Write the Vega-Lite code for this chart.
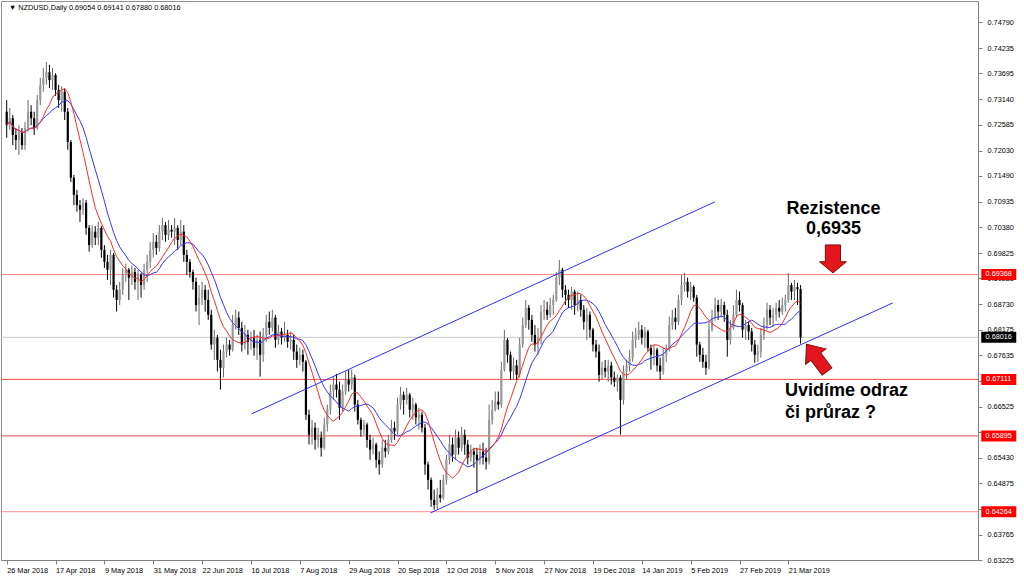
{
"$schema": "https://vega.github.io/schema/vega-lite/v6.json",
"width": 977, "height": 559,
"autosize": "none",
"padding": {"left": 1, "top": 1, "right": 46, "bottom": 17},
"background": "white",
"config": {"view": {"stroke": "#909090"}, "font": "Liberation Sans",
 "axisX": {"labelAlign": "left", "labelBaseline": "top", "labelPadding": 2, "labelDx": 1,
    "tickSize": 4, "grid": false, "title": null, "labelFont": "Liberation Sans", "labelFontSize": 7.3,
    "labelColor": "#000000", "domainColor": "#808080", "tickColor": "#808080",
    "labelFlush": false, "labelOverlap": false, "labelBound": false},
 "axisY": {"tickSize": 4, "labelPadding": 5, "grid": false, "title": null,
    "labelFont": "Liberation Sans", "labelFontSize": 7.3, "labelColor": "#000000",
    "domainColor": "#808080", "tickColor": "#808080", "labelBaseline": "middle", "labelOverlap": false, "labelFlush": false, "labelBound": false}
},
"datasets": {
"ohlc": [
{"i":0,"o":0.7287,"h":0.7312,"l":0.7231,"c":0.7258},
{"i":1,"o":0.7258,"h":0.7295,"l":0.7248,"c":0.7273},
{"i":2,"o":0.7273,"h":0.7280,"l":0.7215,"c":0.7237},
{"i":3,"o":0.7237,"h":0.7252,"l":0.7205,"c":0.7226},
{"i":4,"o":0.7226,"h":0.7258,"l":0.7194,"c":0.7244},
{"i":5,"o":0.7244,"h":0.7252,"l":0.7205,"c":0.7215},
{"i":6,"o":0.7215,"h":0.7265,"l":0.7205,"c":0.7252},
{"i":7,"o":0.7252,"h":0.7312,"l":0.7244,"c":0.7287},
{"i":8,"o":0.7287,"h":0.7301,"l":0.7258,"c":0.7273},
{"i":9,"o":0.7273,"h":0.7287,"l":0.7237,"c":0.7252},
{"i":10,"o":0.7252,"h":0.7323,"l":0.7248,"c":0.7312},
{"i":11,"o":0.7312,"h":0.7360,"l":0.7301,"c":0.7345},
{"i":12,"o":0.7345,"h":0.7381,"l":0.7330,"c":0.7360},
{"i":13,"o":0.7360,"h":0.7394,"l":0.7345,"c":0.7372},
{"i":14,"o":0.7372,"h":0.7388,"l":0.7338,"c":0.7355},
{"i":15,"o":0.7355,"h":0.7381,"l":0.7334,"c":0.7366},
{"i":16,"o":0.7366,"h":0.7370,"l":0.7321,"c":0.7334},
{"i":17,"o":0.7334,"h":0.7345,"l":0.7295,"c":0.7312},
{"i":18,"o":0.7312,"h":0.7342,"l":0.7287,"c":0.7330},
{"i":19,"o":0.7330,"h":0.7336,"l":0.7269,"c":0.7287},
{"i":20,"o":0.7287,"h":0.7295,"l":0.7205,"c":0.7222},
{"i":21,"o":0.7222,"h":0.7226,"l":0.7136,"c":0.7145},
{"i":22,"o":0.7145,"h":0.7151,"l":0.7086,"c":0.7108},
{"i":23,"o":0.7108,"h":0.7119,"l":0.7072,"c":0.7086},
{"i":24,"o":0.7086,"h":0.7097,"l":0.7050,"c":0.7076},
{"i":25,"o":0.7076,"h":0.7101,"l":0.7065,"c":0.7091},
{"i":26,"o":0.7091,"h":0.7097,"l":0.7022,"c":0.7037},
{"i":27,"o":0.7037,"h":0.7043,"l":0.6986,"c":0.7000},
{"i":28,"o":0.7000,"h":0.7043,"l":0.6994,"c":0.7029},
{"i":29,"o":0.7029,"h":0.7041,"l":0.7000,"c":0.7016},
{"i":30,"o":0.7016,"h":0.7050,"l":0.7000,"c":0.7037},
{"i":31,"o":0.7037,"h":0.7041,"l":0.6973,"c":0.6990},
{"i":32,"o":0.6990,"h":0.7000,"l":0.6951,"c":0.6964},
{"i":33,"o":0.6964,"h":0.6979,"l":0.6925,"c":0.6947},
{"i":34,"o":0.6947,"h":0.6990,"l":0.6914,"c":0.6979},
{"i":35,"o":0.6979,"h":0.6983,"l":0.6887,"c":0.6904},
{"i":36,"o":0.6904,"h":0.6914,"l":0.6857,"c":0.6882},
{"i":37,"o":0.6882,"h":0.6921,"l":0.6871,"c":0.6904},
{"i":38,"o":0.6904,"h":0.6951,"l":0.6893,"c":0.6936},
{"i":39,"o":0.6936,"h":0.6960,"l":0.6921,"c":0.6947},
{"i":40,"o":0.6947,"h":0.6951,"l":0.6882,"c":0.6930},
{"i":41,"o":0.6930,"h":0.6956,"l":0.6914,"c":0.6942},
{"i":42,"o":0.6942,"h":0.6951,"l":0.6904,"c":0.6921},
{"i":43,"o":0.6921,"h":0.6947,"l":0.6882,"c":0.6936},
{"i":44,"o":0.6936,"h":0.6940,"l":0.6887,"c":0.6914},
{"i":45,"o":0.6914,"h":0.6960,"l":0.6904,"c":0.6947},
{"i":46,"o":0.6947,"h":0.6979,"l":0.6921,"c":0.6964},
{"i":47,"o":0.6964,"h":0.7007,"l":0.6951,"c":0.6990},
{"i":48,"o":0.6990,"h":0.7026,"l":0.6973,"c":0.7007},
{"i":49,"o":0.7007,"h":0.7022,"l":0.6979,"c":0.6994},
{"i":50,"o":0.6994,"h":0.7043,"l":0.6986,"c":0.7029},
{"i":51,"o":0.7029,"h":0.7058,"l":0.7011,"c":0.7043},
{"i":52,"o":0.7043,"h":0.7050,"l":0.7007,"c":0.7022},
{"i":53,"o":0.7022,"h":0.7054,"l":0.7011,"c":0.7033},
{"i":54,"o":0.7033,"h":0.7043,"l":0.7016,"c":0.7029},
{"i":55,"o":0.7029,"h":0.7058,"l":0.7000,"c":0.7037},
{"i":56,"o":0.7037,"h":0.7043,"l":0.6990,"c":0.7011},
{"i":57,"o":0.7011,"h":0.7054,"l":0.7000,"c":0.7029},
{"i":58,"o":0.7029,"h":0.7043,"l":0.6964,"c":0.6979},
{"i":59,"o":0.6979,"h":0.6990,"l":0.6936,"c":0.6964},
{"i":60,"o":0.6964,"h":0.6970,"l":0.6930,"c":0.6942},
{"i":61,"o":0.6942,"h":0.6947,"l":0.6904,"c":0.6921},
{"i":62,"o":0.6921,"h":0.6930,"l":0.6857,"c":0.6871},
{"i":63,"o":0.6871,"h":0.6914,"l":0.6828,"c":0.6887},
{"i":64,"o":0.6887,"h":0.6921,"l":0.6871,"c":0.6904},
{"i":65,"o":0.6904,"h":0.6914,"l":0.6857,"c":0.6882},
{"i":66,"o":0.6882,"h":0.6904,"l":0.6839,"c":0.6850},
{"i":67,"o":0.6850,"h":0.6861,"l":0.6775,"c":0.6786},
{"i":68,"o":0.6786,"h":0.6818,"l":0.6753,"c":0.6801},
{"i":69,"o":0.6801,"h":0.6807,"l":0.6728,"c":0.6753},
{"i":70,"o":0.6753,"h":0.6775,"l":0.6689,"c":0.6736},
{"i":71,"o":0.6736,"h":0.6786,"l":0.6715,"c":0.6771},
{"i":72,"o":0.6771,"h":0.6801,"l":0.6758,"c":0.6786},
{"i":73,"o":0.6786,"h":0.6796,"l":0.6762,"c":0.6775},
{"i":74,"o":0.6775,"h":0.6850,"l":0.6771,"c":0.6828},
{"i":75,"o":0.6828,"h":0.6861,"l":0.6818,"c":0.6844},
{"i":76,"o":0.6844,"h":0.6857,"l":0.6807,"c":0.6822},
{"i":77,"o":0.6822,"h":0.6835,"l":0.6771,"c":0.6786},
{"i":78,"o":0.6786,"h":0.6828,"l":0.6775,"c":0.6807},
{"i":79,"o":0.6807,"h":0.6818,"l":0.6764,"c":0.6792},
{"i":80,"o":0.6792,"h":0.6814,"l":0.6775,"c":0.6801},
{"i":81,"o":0.6801,"h":0.6818,"l":0.6762,"c":0.6779},
{"i":82,"o":0.6779,"h":0.6807,"l":0.6753,"c":0.6796},
{"i":83,"o":0.6796,"h":0.6814,"l":0.6717,"c":0.6764},
{"i":84,"o":0.6764,"h":0.6822,"l":0.6749,"c":0.6807},
{"i":85,"o":0.6807,"h":0.6850,"l":0.6792,"c":0.6835},
{"i":86,"o":0.6835,"h":0.6857,"l":0.6807,"c":0.6822},
{"i":87,"o":0.6822,"h":0.6861,"l":0.6814,"c":0.6844},
{"i":88,"o":0.6844,"h":0.6850,"l":0.6779,"c":0.6796},
{"i":89,"o":0.6796,"h":0.6828,"l":0.6786,"c":0.6814},
{"i":90,"o":0.6814,"h":0.6822,"l":0.6786,"c":0.6801},
{"i":91,"o":0.6801,"h":0.6835,"l":0.6792,"c":0.6807},
{"i":92,"o":0.6807,"h":0.6818,"l":0.6779,"c":0.6792},
{"i":93,"o":0.6792,"h":0.6814,"l":0.6775,"c":0.6796},
{"i":94,"o":0.6796,"h":0.6807,"l":0.6753,"c":0.6771},
{"i":95,"o":0.6771,"h":0.6786,"l":0.6736,"c":0.6753},
{"i":96,"o":0.6753,"h":0.6779,"l":0.6741,"c":0.6764},
{"i":97,"o":0.6764,"h":0.6775,"l":0.6728,"c":0.6749},
{"i":98,"o":0.6749,"h":0.6753,"l":0.6624,"c":0.6635},
{"i":99,"o":0.6635,"h":0.6646,"l":0.6571,"c":0.6592},
{"i":100,"o":0.6592,"h":0.6624,"l":0.6571,"c":0.6607},
{"i":101,"o":0.6607,"h":0.6618,"l":0.6560,"c":0.6581},
{"i":102,"o":0.6581,"h":0.6607,"l":0.6564,"c":0.6586},
{"i":103,"o":0.6586,"h":0.6599,"l":0.6545,"c":0.6564},
{"i":104,"o":0.6564,"h":0.6629,"l":0.6560,"c":0.6614},
{"i":105,"o":0.6614,"h":0.6657,"l":0.6599,"c":0.6646},
{"i":106,"o":0.6646,"h":0.6700,"l":0.6635,"c":0.6685},
{"i":107,"o":0.6685,"h":0.6717,"l":0.6667,"c":0.6700},
{"i":108,"o":0.6700,"h":0.6723,"l":0.6672,"c":0.6689},
{"i":109,"o":0.6689,"h":0.6706,"l":0.6624,"c":0.6650},
{"i":110,"o":0.6650,"h":0.6700,"l":0.6642,"c":0.6685},
{"i":111,"o":0.6685,"h":0.6728,"l":0.6678,"c":0.6710},
{"i":112,"o":0.6710,"h":0.6732,"l":0.6685,"c":0.6700},
{"i":113,"o":0.6700,"h":0.6732,"l":0.6689,"c":0.6715},
{"i":114,"o":0.6715,"h":0.6721,"l":0.6642,"c":0.6657},
{"i":115,"o":0.6657,"h":0.6667,"l":0.6614,"c":0.6624},
{"i":116,"o":0.6624,"h":0.6629,"l":0.6588,"c":0.6603},
{"i":117,"o":0.6603,"h":0.6624,"l":0.6592,"c":0.6614},
{"i":118,"o":0.6614,"h":0.6618,"l":0.6564,"c":0.6581},
{"i":119,"o":0.6581,"h":0.6592,"l":0.6538,"c":0.6560},
{"i":120,"o":0.6560,"h":0.6586,"l":0.6549,"c":0.6571},
{"i":121,"o":0.6571,"h":0.6575,"l":0.6521,"c":0.6538},
{"i":122,"o":0.6538,"h":0.6556,"l":0.6506,"c":0.6528},
{"i":123,"o":0.6528,"h":0.6581,"l":0.6521,"c":0.6564},
{"i":124,"o":0.6564,"h":0.6581,"l":0.6543,"c":0.6556},
{"i":125,"o":0.6556,"h":0.6592,"l":0.6549,"c":0.6581},
{"i":126,"o":0.6581,"h":0.6624,"l":0.6575,"c":0.6607},
{"i":127,"o":0.6607,"h":0.6620,"l":0.6581,"c":0.6599},
{"i":128,"o":0.6599,"h":0.6672,"l":0.6592,"c":0.6657},
{"i":129,"o":0.6657,"h":0.6695,"l":0.6646,"c":0.6678},
{"i":130,"o":0.6678,"h":0.6685,"l":0.6635,"c":0.6667},
{"i":131,"o":0.6667,"h":0.6693,"l":0.6657,"c":0.6678},
{"i":132,"o":0.6678,"h":0.6682,"l":0.6629,"c":0.6646},
{"i":133,"o":0.6646,"h":0.6672,"l":0.6624,"c":0.6657},
{"i":134,"o":0.6657,"h":0.6661,"l":0.6614,"c":0.6629},
{"i":135,"o":0.6629,"h":0.6650,"l":0.6603,"c":0.6635},
{"i":136,"o":0.6635,"h":0.6642,"l":0.6597,"c":0.6607},
{"i":137,"o":0.6607,"h":0.6615,"l":0.6506,"c":0.6528},
{"i":138,"o":0.6528,"h":0.6534,"l":0.6474,"c":0.6495},
{"i":139,"o":0.6495,"h":0.6500,"l":0.6437,"c":0.6452},
{"i":140,"o":0.6452,"h":0.6474,"l":0.6431,"c":0.6441},
{"i":141,"o":0.6441,"h":0.6478,"l":0.6431,"c":0.6463},
{"i":142,"o":0.6463,"h":0.6495,"l":0.6446,"c":0.6456},
{"i":143,"o":0.6456,"h":0.6506,"l":0.6452,"c":0.6495},
{"i":144,"o":0.6495,"h":0.6549,"l":0.6485,"c":0.6538},
{"i":145,"o":0.6538,"h":0.6592,"l":0.6528,"c":0.6571},
{"i":146,"o":0.6571,"h":0.6586,"l":0.6534,"c":0.6549},
{"i":147,"o":0.6549,"h":0.6603,"l":0.6538,"c":0.6586},
{"i":148,"o":0.6586,"h":0.6599,"l":0.6549,"c":0.6564},
{"i":149,"o":0.6564,"h":0.6609,"l":0.6556,"c":0.6592},
{"i":150,"o":0.6592,"h":0.6603,"l":0.6549,"c":0.6571},
{"i":151,"o":0.6571,"h":0.6581,"l":0.6528,"c":0.6543},
{"i":152,"o":0.6543,"h":0.6571,"l":0.6534,"c":0.6556},
{"i":153,"o":0.6556,"h":0.6564,"l":0.6521,"c":0.6549},
{"i":154,"o":0.6549,"h":0.6564,"l":0.6467,"c":0.6538},
{"i":155,"o":0.6538,"h":0.6571,"l":0.6528,"c":0.6556},
{"i":156,"o":0.6556,"h":0.6575,"l":0.6528,"c":0.6543},
{"i":157,"o":0.6543,"h":0.6564,"l":0.6517,"c":0.6534},
{"i":158,"o":0.6534,"h":0.6657,"l":0.6528,"c":0.6624},
{"i":159,"o":0.6624,"h":0.6667,"l":0.6614,"c":0.6646},
{"i":160,"o":0.6646,"h":0.6685,"l":0.6642,"c":0.6663},
{"i":161,"o":0.6663,"h":0.6685,"l":0.6646,"c":0.6657},
{"i":162,"o":0.6657,"h":0.6749,"l":0.6650,"c":0.6732},
{"i":163,"o":0.6732,"h":0.6818,"l":0.6728,"c":0.6796},
{"i":164,"o":0.6796,"h":0.6800,"l":0.6747,"c":0.6764},
{"i":165,"o":0.6764,"h":0.6771,"l":0.6710,"c":0.6728},
{"i":166,"o":0.6728,"h":0.6758,"l":0.6710,"c":0.6741},
{"i":167,"o":0.6741,"h":0.6753,"l":0.6710,"c":0.6721},
{"i":168,"o":0.6721,"h":0.6801,"l":0.6715,"c":0.6786},
{"i":169,"o":0.6786,"h":0.6844,"l":0.6779,"c":0.6828},
{"i":170,"o":0.6828,"h":0.6882,"l":0.6822,"c":0.6865},
{"i":171,"o":0.6865,"h":0.6871,"l":0.6818,"c":0.6839},
{"i":172,"o":0.6839,"h":0.6850,"l":0.6792,"c":0.6807},
{"i":173,"o":0.6807,"h":0.6828,"l":0.6771,"c":0.6786},
{"i":174,"o":0.6786,"h":0.6822,"l":0.6764,"c":0.6801},
{"i":175,"o":0.6801,"h":0.6871,"l":0.6786,"c":0.6857},
{"i":176,"o":0.6857,"h":0.6882,"l":0.6839,"c":0.6861},
{"i":177,"o":0.6861,"h":0.6878,"l":0.6839,"c":0.6850},
{"i":178,"o":0.6850,"h":0.6887,"l":0.6844,"c":0.6871},
{"i":179,"o":0.6871,"h":0.6893,"l":0.6850,"c":0.6882},
{"i":180,"o":0.6882,"h":0.6942,"l":0.6878,"c":0.6930},
{"i":181,"o":0.6930,"h":0.6968,"l":0.6914,"c":0.6947},
{"i":182,"o":0.6947,"h":0.6951,"l":0.6887,"c":0.6904},
{"i":183,"o":0.6904,"h":0.6914,"l":0.6871,"c":0.6893},
{"i":184,"o":0.6893,"h":0.6904,"l":0.6865,"c":0.6882},
{"i":185,"o":0.6882,"h":0.6910,"l":0.6861,"c":0.6900},
{"i":186,"o":0.6900,"h":0.6904,"l":0.6850,"c":0.6871},
{"i":187,"o":0.6871,"h":0.6900,"l":0.6857,"c":0.6882},
{"i":188,"o":0.6882,"h":0.6893,"l":0.6846,"c":0.6861},
{"i":189,"o":0.6861,"h":0.6871,"l":0.6818,"c":0.6835},
{"i":190,"o":0.6835,"h":0.6865,"l":0.6796,"c":0.6850},
{"i":191,"o":0.6850,"h":0.6857,"l":0.6801,"c":0.6818},
{"i":192,"o":0.6818,"h":0.6822,"l":0.6771,"c":0.6786},
{"i":193,"o":0.6786,"h":0.6796,"l":0.6758,"c":0.6771},
{"i":194,"o":0.6771,"h":0.6786,"l":0.6706,"c":0.6721},
{"i":195,"o":0.6721,"h":0.6749,"l":0.6710,"c":0.6736},
{"i":196,"o":0.6736,"h":0.6753,"l":0.6715,"c":0.6728},
{"i":197,"o":0.6728,"h":0.6753,"l":0.6706,"c":0.6741},
{"i":198,"o":0.6741,"h":0.6749,"l":0.6700,"c":0.6715},
{"i":199,"o":0.6715,"h":0.6728,"l":0.6695,"c":0.6706},
{"i":200,"o":0.6706,"h":0.6721,"l":0.6685,"c":0.6715},
{"i":201,"o":0.6715,"h":0.6720,"l":0.6592,"c":0.6667},
{"i":202,"o":0.6667,"h":0.6741,"l":0.6657,"c":0.6728},
{"i":203,"o":0.6728,"h":0.6753,"l":0.6710,"c":0.6741},
{"i":204,"o":0.6741,"h":0.6775,"l":0.6728,"c":0.6758},
{"i":205,"o":0.6758,"h":0.6814,"l":0.6749,"c":0.6796},
{"i":206,"o":0.6796,"h":0.6822,"l":0.6779,"c":0.6807},
{"i":207,"o":0.6807,"h":0.6835,"l":0.6796,"c":0.6818},
{"i":208,"o":0.6818,"h":0.6828,"l":0.6786,"c":0.6801},
{"i":209,"o":0.6801,"h":0.6824,"l":0.6779,"c":0.6814},
{"i":210,"o":0.6814,"h":0.6818,"l":0.6771,"c":0.6779},
{"i":211,"o":0.6779,"h":0.6786,"l":0.6732,"c":0.6764},
{"i":212,"o":0.6764,"h":0.6786,"l":0.6741,"c":0.6775},
{"i":213,"o":0.6775,"h":0.6779,"l":0.6728,"c":0.6741},
{"i":214,"o":0.6741,"h":0.6758,"l":0.6710,"c":0.6728},
{"i":215,"o":0.6728,"h":0.6779,"l":0.6721,"c":0.6764},
{"i":216,"o":0.6764,"h":0.6786,"l":0.6749,"c":0.6775},
{"i":217,"o":0.6775,"h":0.6846,"l":0.6771,"c":0.6828},
{"i":218,"o":0.6828,"h":0.6861,"l":0.6818,"c":0.6844},
{"i":219,"o":0.6844,"h":0.6865,"l":0.6818,"c":0.6835},
{"i":220,"o":0.6835,"h":0.6893,"l":0.6828,"c":0.6882},
{"i":221,"o":0.6882,"h":0.6936,"l":0.6871,"c":0.6914},
{"i":222,"o":0.6914,"h":0.6940,"l":0.6900,"c":0.6921},
{"i":223,"o":0.6921,"h":0.6930,"l":0.6887,"c":0.6900},
{"i":224,"o":0.6900,"h":0.6921,"l":0.6882,"c":0.6910},
{"i":225,"o":0.6910,"h":0.6914,"l":0.6878,"c":0.6887},
{"i":226,"o":0.6887,"h":0.6893,"l":0.6760,"c":0.6786},
{"i":227,"o":0.6786,"h":0.6792,"l":0.6749,"c":0.6764},
{"i":228,"o":0.6764,"h":0.6779,"l":0.6736,"c":0.6749},
{"i":229,"o":0.6749,"h":0.6764,"l":0.6721,"c":0.6736},
{"i":230,"o":0.6736,"h":0.6835,"l":0.6732,"c":0.6818},
{"i":231,"o":0.6818,"h":0.6861,"l":0.6814,"c":0.6844},
{"i":232,"o":0.6844,"h":0.6887,"l":0.6837,"c":0.6871},
{"i":233,"o":0.6871,"h":0.6882,"l":0.6839,"c":0.6857},
{"i":234,"o":0.6857,"h":0.6885,"l":0.6844,"c":0.6871},
{"i":235,"o":0.6871,"h":0.6878,"l":0.6835,"c":0.6850},
{"i":236,"o":0.6850,"h":0.6861,"l":0.6760,"c":0.6796},
{"i":237,"o":0.6796,"h":0.6839,"l":0.6786,"c":0.6822},
{"i":238,"o":0.6822,"h":0.6871,"l":0.6818,"c":0.6850},
{"i":239,"o":0.6850,"h":0.6904,"l":0.6844,"c":0.6882},
{"i":240,"o":0.6882,"h":0.6900,"l":0.6857,"c":0.6871},
{"i":241,"o":0.6871,"h":0.6876,"l":0.6801,"c":0.6818},
{"i":242,"o":0.6818,"h":0.6839,"l":0.6796,"c":0.6828},
{"i":243,"o":0.6828,"h":0.6835,"l":0.6796,"c":0.6814},
{"i":244,"o":0.6814,"h":0.6822,"l":0.6771,"c":0.6786},
{"i":245,"o":0.6786,"h":0.6796,"l":0.6747,"c":0.6764},
{"i":246,"o":0.6764,"h":0.6786,"l":0.6749,"c":0.6771},
{"i":247,"o":0.6771,"h":0.6822,"l":0.6758,"c":0.6807},
{"i":248,"o":0.6807,"h":0.6844,"l":0.6796,"c":0.6828},
{"i":249,"o":0.6828,"h":0.6876,"l":0.6818,"c":0.6861},
{"i":250,"o":0.6861,"h":0.6871,"l":0.6828,"c":0.6844},
{"i":251,"o":0.6844,"h":0.6865,"l":0.6824,"c":0.6850},
{"i":252,"o":0.6850,"h":0.6876,"l":0.6837,"c":0.6865},
{"i":253,"o":0.6865,"h":0.6882,"l":0.6844,"c":0.6857},
{"i":254,"o":0.6857,"h":0.6887,"l":0.6850,"c":0.6871},
{"i":255,"o":0.6871,"h":0.6893,"l":0.6857,"c":0.6882},
{"i":256,"o":0.6882,"h":0.6940,"l":0.6876,"c":0.6914},
{"i":257,"o":0.6914,"h":0.6919,"l":0.6882,"c":0.6900},
{"i":258,"o":0.6900,"h":0.6925,"l":0.6882,"c":0.6910},
{"i":259,"o":0.6910,"h":0.6919,"l":0.6871,"c":0.6905},
{"i":260,"o":0.69054,"h":0.69141,"l":0.6788,"c":0.68016}
],
"levels": [
{"p":0.69368,"k":"light"},
{"p":0.67111,"k":"red"},
{"p":0.65895,"k":"red"},
{"p":0.64264,"k":"light"},
{"p":0.68016,"k":"cur"}
],
"channel": [
{"ch":"upper","i":80.2,"p":0.66369},
{"ch":"upper","i":231.9,"p":0.70929},
{"ch":"lower","i":138.8,"p":0.64239},
{"ch":"lower","i":290.2,"p":0.68756}
]
},
"layer": [
{
 "data": {"name": "levels"},
 "mark": {"type": "rule", "strokeWidth": 1},
 "encoding": {
  "y": {"field": "p", "type": "quantitative", "title": null,
   "scale": {"domain": [0.63225, 0.75252], "nice": false, "zero": false},
   "axis": {"orient": "right", "tickCount": 60,
    "values": [0.7479,0.74235,0.73695,0.7314,0.72585,0.7203,0.7149,0.70935,0.7038,0.69825,0.69283,0.6873,0.68175,0.67635,0.6708,0.66525,0.6597,0.6543,0.64875,0.6432,0.63765,0.63225],
    "labelExpr": "indexof([0.6708, 0.6597, 0.6432], datum.value) >= 0 ? '' : format(datum.value, '.5f')",
    "labelOverlap": false, "labelFlush": false, "labelBound": false, "labelPadding": 5, "tickSize": 4,
    "labelFont": "Liberation Sans", "labelFontSize": 7.3, "labelColor": "#000000", "labelBaseline": "middle",
    "domainColor": "#808080", "tickColor": "#808080", "grid": false}},
  "color": {"field": "k", "type": "nominal", "scale": {"domain": ["light","red","cur"], "range": ["#ff8a8a","#f04848","#c8c8c8"]}, "legend": null}
 }
},
{
 "data": {"name": "ohlc"},
 "mark": {"type": "rule", "strokeWidth": 1},
 "encoding": {
  "x": {"field": "i", "type": "quantitative", "title": null, "scale": {"domain": [-0.23, 316.47], "nice": false, "zero": false},
   "axis": {"tickCount": 60, "values": [0,16,32,48,64,80,96,112,128,144,160,176,192,208,224,240,256],
    "labelExpr": "['26 Mar 2018','17 Apr 2018','9 May 2018','31 May 2018','22 Jun 2018','16 Jul 2018','7 Aug 2018','29 Aug 2018','20 Sep 2018','12 Oct 2018','5 Nov 2018','27 Nov 2018','19 Dec 2018','14 Jan 2019','5 Feb 2019','27 Feb 2019','21 Mar 2019'][round(datum.value/16)]",
    "labelOverlap": false}},
  "y": {"field": "l", "type": "quantitative", "title": null, "scale": {"domain": [0.63225, 0.75252], "nice": false, "zero": false}, "axis": {"orient": "right", "labelOverlap": false, "tickCount": 60}},
  "y2": {"field": "h"},
  "color": {"condition": {"test": "datum.c >= datum.o", "value": "#6a6a6a"}, "value": "#000000"}
 }
},
{
 "data": {"name": "ohlc"},
 "mark": {"type": "bar", "size": 2.2},
 "encoding": {
  "x": {"field": "i", "type": "quantitative", "title": null, "scale": {"domain": [-0.23, 316.47], "nice": false, "zero": false}},
  "y": {"field": "o", "type": "quantitative", "title": null, "scale": {"domain": [0.63225, 0.75252], "nice": false, "zero": false}, "axis": {"orient": "right", "labelOverlap": false, "tickCount": 60}},
  "y2": {"field": "c"},
  "color": {"condition": {"test": "datum.c >= datum.o", "value": "#9a9a9a"}, "value": "#000000"}
 }
},
{
 "data": {"name": "ohlc"},
 "transform": [{"window": [{"op": "mean", "field": "c", "as": "ma15"}], "sort": [{"field": "i"}], "frame": [-14, 0]}],
 "mark": {"type": "line", "color": "#3535ff", "strokeWidth": 1},
 "encoding": {
  "x": {"field": "i", "type": "quantitative", "title": null, "scale": {"domain": [-0.23, 316.47], "nice": false, "zero": false}},
  "y": {"field": "ma15", "type": "quantitative", "title": null, "scale": {"domain": [0.63225, 0.75252], "nice": false, "zero": false}, "axis": {"orient": "right", "labelOverlap": false, "tickCount": 60}}
 }
},
{
 "data": {"name": "ohlc"},
 "transform": [{"window": [{"op": "mean", "field": "c", "as": "ma10"}], "sort": [{"field": "i"}], "frame": [-9, 0]}],
 "mark": {"type": "line", "color": "#ff2a2a", "strokeWidth": 1},
 "encoding": {
  "x": {"field": "i", "type": "quantitative", "title": null, "scale": {"domain": [-0.23, 316.47], "nice": false, "zero": false}},
  "y": {"field": "ma10", "type": "quantitative", "title": null, "scale": {"domain": [0.63225, 0.75252], "nice": false, "zero": false}, "axis": {"orient": "right", "labelOverlap": false, "tickCount": 60}}
 }
},
{
 "data": {"name": "channel"},
 "mark": {"type": "line", "color": "#3030ff", "strokeWidth": 1},
 "encoding": {
  "x": {"field": "i", "type": "quantitative", "title": null, "scale": {"domain": [-0.23, 316.47], "nice": false, "zero": false}},
  "y": {"field": "p", "type": "quantitative", "title": null, "scale": {"domain": [0.63225, 0.75252], "nice": false, "zero": false}, "axis": {"orient": "right", "labelOverlap": false, "tickCount": 60}},
  "detail": {"field": "ch"}
 }
},
{
 "data": {"values": [{"t": "Rezistence", "i": 270.8, "p": 0.70671}, {"t": "0,6935", "i": 270.8, "p": 0.70241}]},
 "mark": {"type": "text", "align": "center", "baseline": "alphabetic", "font": "Liberation Sans", "fontWeight": "bold", "fontSize": 18, "color": "#000000", "clip": false},
 "encoding": {
  "x": {"field": "i", "type": "quantitative", "title": null, "scale": {"domain": [-0.23, 316.47], "nice": false, "zero": false}},
  "y": {"field": "p", "type": "quantitative", "title": null, "scale": {"domain": [0.63225, 0.75252], "nice": false, "zero": false}, "axis": {"orient": "right", "labelOverlap": false, "tickCount": 60}},
  "text": {"field": "t"}
 }
},
{
 "data": {"values": [{"t": "Uvidíme odraz", "i": 254.9, "p": 0.66745}, {"t": "či průraz ?", "i": 254.9, "p": 0.66283}]},
 "mark": {"type": "text", "align": "left", "baseline": "alphabetic", "font": "Liberation Sans", "fontWeight": "bold", "fontSize": 18, "color": "#000000", "clip": false},
 "encoding": {
  "x": {"field": "i", "type": "quantitative", "title": null, "scale": {"domain": [-0.23, 316.47], "nice": false, "zero": false}},
  "y": {"field": "p", "type": "quantitative", "title": null, "scale": {"domain": [0.63225, 0.75252], "nice": false, "zero": false}, "axis": {"orient": "right", "labelOverlap": false, "tickCount": 60}},
  "text": {"field": "t"}
 }
},
{
 "data": {"values": [{"i": 270.6, "p": 0.69703}]},
 "mark": {"type": "point", "shape": "M -0.54 -1 L 0.54 -1 L 0.54 0.2 L 0.96 0.2 L 0 1 L -0.96 0.2 L -0.54 0.2 Z", "size": 784, "filled": true, "fill": "#e3161d", "stroke": "#8a0c0c", "strokeWidth": 1, "opacity": 1},
 "encoding": {
  "x": {"field": "i", "type": "quantitative", "title": null, "scale": {"domain": [-0.23, 316.47], "nice": false, "zero": false}},
  "y": {"field": "p", "type": "quantitative", "title": null, "scale": {"domain": [0.63225, 0.75252], "nice": false, "zero": false}, "axis": {"orient": "right", "labelOverlap": false, "tickCount": 60}}
 }
},
{
 "data": {"values": [{"i": 265.3, "p": 0.67573}]},
 "mark": {"type": "point", "shape": "M 0 -1 L 0.75 -0.1 L 0.36 -0.1 L 0.36 1 L -0.36 1 L -0.36 -0.1 L -0.75 -0.1 Z", "size": 1156, "angle": -37, "filled": true, "fill": "#e3161d", "stroke": "#8a0c0c", "strokeWidth": 1, "opacity": 1},
 "encoding": {
  "x": {"field": "i", "type": "quantitative", "title": null, "scale": {"domain": [-0.23, 316.47], "nice": false, "zero": false}},
  "y": {"field": "p", "type": "quantitative", "title": null, "scale": {"domain": [0.63225, 0.75252], "nice": false, "zero": false}, "axis": {"orient": "right", "labelOverlap": false, "tickCount": 60}}
 }
},
{
 "data": {"name": "levels"},
 "mark": {"type": "point", "shape": "M -1 -0.314 L 1 -0.314 L 1 0.314 L -1 0.314 Z", "size": 1225, "filled": true, "opacity": 1, "clip": false},
 "encoding": {
  "x": {"datum": 324.9, "type": "quantitative", "title": null, "scale": {"domain": [-0.23, 316.47], "nice": false, "zero": false}},
  "y": {"field": "p", "type": "quantitative", "title": null, "scale": {"domain": [0.63225, 0.75252], "nice": false, "zero": false}, "axis": {"orient": "right", "labelOverlap": false, "tickCount": 60}},
  "color": {"condition": {"test": "datum.k == 'cur'", "value": "#000000"}, "value": "#ff0000"}
 }
},
{
 "data": {"name": "levels"},
 "mark": {"type": "text", "align": "center", "baseline": "middle", "font": "Liberation Sans", "fontSize": 7.3, "color": "#ffffff", "clip": false},
 "encoding": {
  "x": {"datum": 324.9, "type": "quantitative", "title": null, "scale": {"domain": [-0.23, 316.47], "nice": false, "zero": false}},
  "y": {"field": "p", "type": "quantitative", "title": null, "scale": {"domain": [0.63225, 0.75252], "nice": false, "zero": false}, "axis": {"orient": "right", "labelOverlap": false, "tickCount": 60}},
  "text": {"field": "p", "format": ".5f"}
 }
},
{
 "data": {"values": [{"t": "▼ NZDUSD,Daily  0.69054 0.69141 0.67880 0.68016", "i": 0.75, "p": 0.75101}]},
 "mark": {"type": "text", "align": "left", "baseline": "middle", "font": "Liberation Sans", "fontSize": 7.3, "color": "#000000", "clip": false},
 "encoding": {
  "x": {"field": "i", "type": "quantitative", "title": null, "scale": {"domain": [-0.23, 316.47], "nice": false, "zero": false}},
  "y": {"field": "p", "type": "quantitative", "title": null, "scale": {"domain": [0.63225, 0.75252], "nice": false, "zero": false}, "axis": {"orient": "right", "labelOverlap": false, "tickCount": 60}},
  "text": {"field": "t"}
 }
}
]
}
